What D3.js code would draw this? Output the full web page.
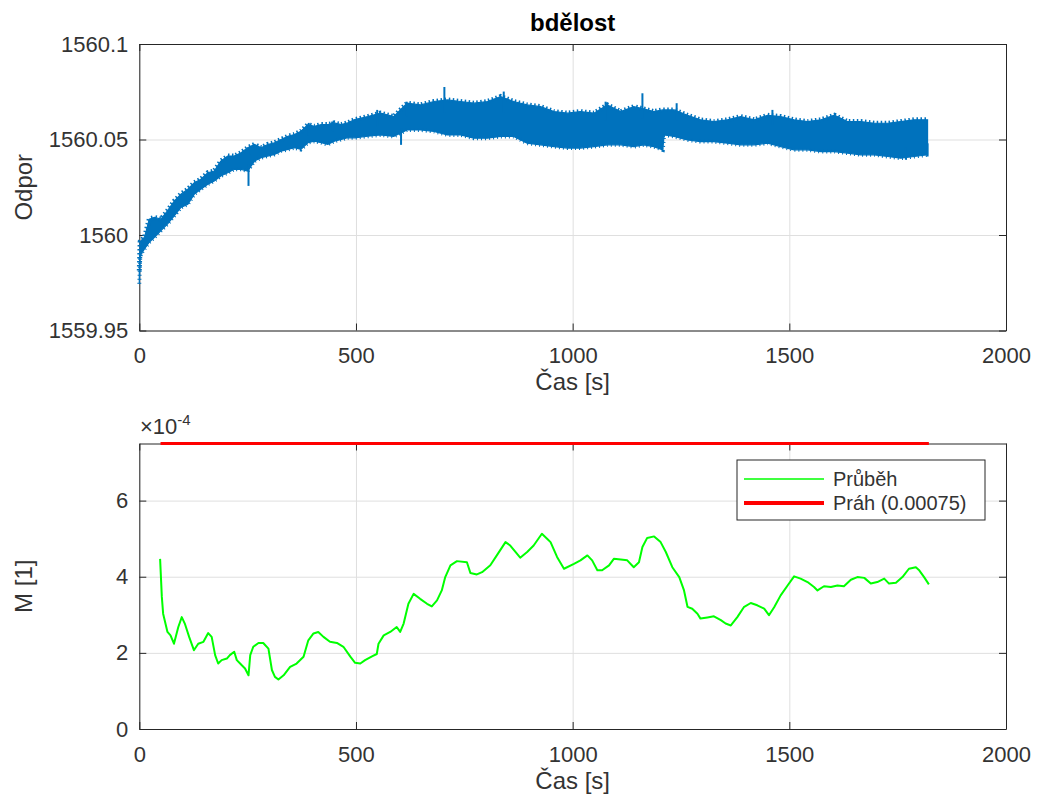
<!DOCTYPE html>
<html lang="cs">
<head>
<meta charset="UTF-8">
<title>bdělost</title>
<script src="https://d3js.org/d3.v7.min.js"></script>
<style>
  body { margin: 0; background: #fff; }
  svg { font-family: "Liberation Sans", Arial, sans-serif; }
  .tick text { fill: #333; }
</style>
</head>
<body>
<script>
// ---- data ----
const xTicks = [0, 500, 1000, 1500, 2000];
const yTicksTop = [1559.95, 1560, 1560.05, 1560.1];
const yTicksBottom = [0, 2, 4, 6];

// top panel: the dense resistance trace, as upper / lower envelope of the band
const tBand = [0, 2, 4, 12, 23, 35, 50, 65, 81, 96, 112, 127, 142, 158, 173, 188, 204, 219, 235, 250,
  266, 281, 296, 312, 327, 343, 358, 373, 389, 404, 420, 435, 450, 466, 481, 497, 527, 557, 587, 618,
  649, 680, 711, 741, 772, 803, 834, 864, 895, 926, 957, 988, 1018, 1049, 1080, 1111, 1141, 1164, 1187, 1208,
  1211, 1234, 1265, 1295, 1326, 1357, 1388, 1419, 1450, 1480, 1511, 1542, 1573, 1604, 1634, 1665, 1696, 1727, 1757, 1788,
  1819];
const bandUpper = [1559.9814, 1559.9965, 1559.9970, 1559.9988, 1560.0083, 1560.0092, 1560.0083, 1560.0127, 1560.0179, 1560.0214,
  1560.0240, 1560.0274, 1560.0292, 1560.0326, 1560.0335, 1560.0387, 1560.0413, 1560.0413, 1560.0431, 1560.0457,
  1560.0474, 1560.0457, 1560.0474, 1560.0483, 1560.0500, 1560.0517, 1560.0526, 1560.0543, 1560.0578, 1560.0569,
  1560.0578, 1560.0578, 1560.0587, 1560.0578, 1560.0587, 1560.0604, 1560.0620, 1560.0638, 1560.0620, 1560.0690,
  1560.0681, 1560.0699, 1560.0707, 1560.0699, 1560.0690, 1560.0699, 1560.0725, 1560.0699, 1560.0681, 1560.0672,
  1560.0646, 1560.0638, 1560.0646, 1560.0638, 1560.0681, 1560.0646, 1560.0672, 1560.0660, 1560.0646, 1560.0655,
  1560.0655, 1560.0655, 1560.0627, 1560.0603, 1560.0594, 1560.0603, 1560.0620, 1560.0603, 1560.0627, 1560.0620,
  1560.0603, 1560.0594, 1560.0603, 1560.0627, 1560.0594, 1560.0594, 1560.0585, 1560.0585, 1560.0594, 1560.0603,
  1560.0603];
const bandLower = [1559.9745, 1559.9875, 1559.9900, 1559.9927, 1559.9962, 1559.9988, 1560.0023, 1560.0057, 1560.0101, 1560.0144,
  1560.0161, 1560.0214, 1560.0240, 1560.0266, 1560.0283, 1560.0309, 1560.0326, 1560.0344, 1560.0344, 1560.0335,
  1560.0387, 1560.0405, 1560.0413, 1560.0422, 1560.0439, 1560.0448, 1560.0457, 1560.0448, 1560.0483, 1560.0491,
  1560.0483, 1560.0474, 1560.0491, 1560.0500, 1560.0509, 1560.0509, 1560.0517, 1560.0524, 1560.0516, 1560.0550,
  1560.0550, 1560.0542, 1560.0524, 1560.0524, 1560.0507, 1560.0507, 1560.0516, 1560.0516, 1560.0481, 1560.0472,
  1560.0463, 1560.0455, 1560.0455, 1560.0463, 1560.0472, 1560.0472, 1560.0463, 1560.0472, 1560.0463, 1560.0446,
  1560.0524, 1560.0516, 1560.0498, 1560.0489, 1560.0489, 1560.0481, 1560.0472, 1560.0472, 1560.0481, 1560.0463,
  1560.0446, 1560.0446, 1560.0437, 1560.0437, 1560.0429, 1560.0420, 1560.0420, 1560.0411, 1560.0402, 1560.0411,
  1560.0420];
// isolated spikes sticking out of the band: time, base, tip
const spikeT = [252, 256, 391, 445, 549, 604, 617, 704, 841, 1076, 1161, 1240, 1461, 1769, 1819];
const spikeBase = [1560.0370, 1560.0420, 1560.0520, 1560.0540, 1560.0570, 1560.0560, 1560.0620, 1560.0640, 1560.0640, 1560.0600, 1560.0610, 1560.0600, 1560.0580, 1560.0460, 1560.0480];
const spikeTip = [1560.0257, 1560.0463, 1560.0587, 1560.0594, 1560.0655, 1560.0472, 1560.0698, 1560.0775, 1560.0751, 1560.0698, 1560.0742, 1560.0690, 1560.0655, 1560.0394, 1560.0411];

// bottom panel: M (in units of 1e-4)
const tM = [48, 52, 55, 65, 72, 80, 90, 98, 105, 115, 126, 136, 148, 159, 167, 175, 182, 190, 202, 209,
  219, 225, 236, 244, 252, 256, 263, 275, 286, 298, 306, 313, 321, 333, 348, 363, 379, 390, 402, 413,
  425, 440, 456, 471, 487, 498, 510, 521, 537, 548, 552, 564, 579, 594, 602, 610, 621, 633, 648, 664,
  675, 687, 698, 706, 718, 733, 756, 764, 779, 791, 810, 825, 845, 856, 868, 879, 895, 910, 929, 941,
  949, 964, 980, 1003, 1018, 1034, 1045, 1057, 1068, 1084, 1095, 1111, 1126, 1141, 1153, 1161, 1172, 1188, 1203, 1215,
  1230, 1246, 1257, 1265, 1276, 1288, 1295, 1311, 1326, 1342, 1353, 1365, 1380, 1395, 1411, 1426, 1442, 1453, 1465, 1480,
  1496, 1511, 1526, 1542, 1557, 1565, 1580, 1596, 1611, 1626, 1642, 1657, 1673, 1688, 1703, 1719, 1730, 1746, 1761, 1776,
  1792, 1799, 1811, 1822];
const vM = [4.47, 3.47, 3.03, 2.55, 2.46, 2.24, 2.68, 2.94, 2.77, 2.42, 2.07, 2.24, 2.29, 2.52, 2.42, 1.94, 1.72, 1.81, 1.85, 1.94,
  2.03, 1.81, 1.68, 1.59, 1.41, 1.94, 2.16, 2.26, 2.26, 2.11, 1.55, 1.37, 1.30, 1.41, 1.63, 1.72, 1.90, 2.33, 2.51, 2.55,
  2.42, 2.29, 2.26, 2.16, 1.90, 1.74, 1.72, 1.81, 1.91, 1.97, 2.24, 2.46, 2.55, 2.68, 2.55, 2.77, 3.29, 3.55, 3.42, 3.29,
  3.22, 3.38, 3.64, 3.99, 4.30, 4.41, 4.38, 4.10, 4.06, 4.12, 4.30, 4.56, 4.91, 4.82, 4.65, 4.50, 4.65, 4.82, 5.13, 5.00,
  4.91, 4.52, 4.21, 4.34, 4.43, 4.56, 4.43, 4.17, 4.17, 4.30, 4.47, 4.45, 4.43, 4.25, 4.38, 4.78, 5.02, 5.06, 4.91, 4.65,
  4.25, 3.99, 3.64, 3.21, 3.16, 3.03, 2.90, 2.93, 2.96, 2.86, 2.77, 2.72, 2.94, 3.20, 3.31, 3.25, 3.16, 2.99, 3.20, 3.51,
  3.77, 4.01, 3.95, 3.86, 3.73, 3.64, 3.75, 3.73, 3.77, 3.75, 3.92, 3.99, 3.97, 3.82, 3.86, 3.95, 3.82, 3.84, 3.99, 4.21,
  4.25, 4.18, 3.99, 3.80];
const threshold = 7.5;            // x 1e-4  (0.00075)
const thresholdSpan = [49, 1822];  // time range of the threshold line
const legendLabels = ["Průběh", "Práh (0.00075)"];

// ---- layout ----
const width = 1038, height = 800;
const svg = d3.select("body").append("svg").attr("width", width).attr("height", height);

const left = 139.3, right = 1006;
const topBox = { top: 44, bottom: 330.5 };
const botBox = { top: 443.5, bottom: 729 };

const x = d3.scaleLinear().domain([0, 2000]).range([left, right]);
const yTop = d3.scaleLinear().domain([1559.95, 1560.1]).range([topBox.bottom, topBox.top]);
const yBot = d3.scaleLinear().domain([0, 7.5]).range([botBox.bottom, botBox.top]);

const axisColor = "#262626";
const gridColor = "#dfdfdf";
const fmtX = d3.format("d");

function drawFrame(y, box, yFmt, yTickVals) {
  const g = svg.append("g");
  const h = box.bottom - box.top, w = right - left;

  // grid
  g.append("g").attr("transform", `translate(0,${box.bottom})`)
    .call(d3.axisBottom(x).tickValues(xTicks).tickSize(-h).tickFormat(""))
    .call(s => s.select(".domain").remove())
    .call(s => s.selectAll("line").attr("stroke", gridColor));
  g.append("g").attr("transform", `translate(${left},0)`)
    .call(d3.axisLeft(y).tickValues(yTickVals).tickSize(-w).tickFormat(""))
    .call(s => s.select(".domain").remove())
    .call(s => s.selectAll("line").attr("stroke", gridColor));

  // box with inward ticks on all sides
  const style = s => {
    s.select(".domain").attr("stroke", axisColor).attr("stroke-width", 1);
    s.selectAll(".tick line").attr("stroke", axisColor);
    s.selectAll(".tick text").attr("font-size", 22).attr("fill", "#333");
  };
  g.append("g").attr("transform", `translate(0,${box.bottom})`)
    .call(d3.axisBottom(x).tickValues(xTicks).tickSizeInner(-7).tickSizeOuter(0).tickPadding(17).tickFormat(fmtX))
    .call(style);
  g.append("g").attr("transform", `translate(0,${box.top})`)
    .call(d3.axisTop(x).tickValues(xTicks).tickSizeInner(-7).tickSizeOuter(0).tickFormat(""))
    .call(style);
  g.append("g").attr("transform", `translate(${left},0)`)
    .call(d3.axisLeft(y).tickValues(yTickVals).tickSizeInner(-7).tickSizeOuter(0).tickPadding(11).tickFormat(yFmt))
    .call(style);
  g.append("g").attr("transform", `translate(${right},0)`)
    .call(d3.axisRight(y).tickValues(yTickVals).tickSizeInner(-7).tickSizeOuter(0).tickFormat(""))
    .call(style);
  g.selectAll("text").attr("font-family", "'Liberation Sans', Arial, sans-serif");
  return g;
}

// ---- top panel ----
drawFrame(yTop, topBox, d => String(+d.toFixed(2)), yTicksTop);

const band = tBand.map((t, i) => ({ t, hi: bandUpper[i], lo: bandLower[i] }));
const blue = "#0072BD";
svg.append("path")
  .datum(band)
  .attr("fill", blue)
  .attr("stroke", blue)
  .attr("stroke-width", 1.2)
  .attr("d", d3.area().x(d => x(d.t)).y0(d => yTop(d.lo)).y1(d => yTop(d.hi)));

// ragged fringe along both edges of the noisy band
[["hi", "1.5 2.5", 5], ["lo", "1 3", 4]].forEach(([k, dash, sw]) => {
  svg.append("path")
    .datum(band)
    .attr("fill", "none")
    .attr("stroke", blue)
    .attr("stroke-width", sw)
    .attr("stroke-dasharray", dash)
    .attr("d", d3.line().x(d => x(d.t)).y(d => yTop(d[k])));
});

svg.append("g").selectAll("line")
  .data(spikeT.map((t, i) => ({ t, a: spikeBase[i], b: spikeTip[i] })))
  .join("line")
  .attr("x1", d => x(d.t)).attr("x2", d => x(d.t))
  .attr("y1", d => yTop(d.a)).attr("y2", d => yTop(d.b))
  .attr("stroke", blue).attr("stroke-width", 2);

svg.append("text")
  .attr("x", (left + right) / 2).attr("y", 31)
  .attr("text-anchor", "middle").attr("font-size", 24).attr("font-weight", "bold")
  .attr("fill", "#000").text("bdělost");

svg.append("text")
  .attr("x", (left + right) / 2).attr("y", 390)
  .attr("text-anchor", "middle").attr("font-size", 24).attr("fill", "#333")
  .text("Čas [s]");

svg.append("text")
  .attr("transform", `translate(32,${(topBox.top + topBox.bottom) / 2}) rotate(-90)`)
  .attr("text-anchor", "middle").attr("font-size", 24).attr("fill", "#333")
  .text("Odpor");

// ---- bottom panel ----
drawFrame(yBot, botBox, d => String(d), yTicksBottom);

svg.append("path")
  .datum(tM.map((t, i) => [t, vM[i]]))
  .attr("fill", "none")
  .attr("stroke", "#00ff00")
  .attr("stroke-width", 2)
  .attr("stroke-linejoin", "round")
  .attr("d", d3.line().x(d => x(d[0])).y(d => yBot(d[1])));

svg.append("line")
  .attr("x1", x(thresholdSpan[0])).attr("x2", x(thresholdSpan[1]))
  .attr("y1", yBot(threshold)).attr("y2", yBot(threshold))
  .attr("stroke", "#ff0000").attr("stroke-width", 3);

// exponent label
const expo = svg.append("text").attr("x", 140).attr("y", 434).attr("font-size", 22).attr("fill", "#333");
expo.append("tspan").text("×10");
expo.append("tspan").attr("font-size", 15).attr("dy", -9).text("-4");

svg.append("text")
  .attr("x", (left + right) / 2).attr("y", 789)
  .attr("text-anchor", "middle").attr("font-size", 24).attr("fill", "#333")
  .text("Čas [s]");

svg.append("text")
  .attr("transform", `translate(32,${(botBox.top + botBox.bottom) / 2}) rotate(-90)`)
  .attr("text-anchor", "middle").attr("font-size", 24).attr("fill", "#333")
  .text("M [1]");

// legend
const lg = svg.append("g").attr("transform", "translate(737,460)");
lg.append("rect").attr("width", 248).attr("height", 60)
  .attr("fill", "#fff").attr("stroke", axisColor).attr("stroke-width", 1);
const legendColors = ["#00ff00", "#ff0000"];
const legendWidths = [1.5, 4];
legendLabels.forEach((lab, i) => {
  const cy = 19 + i * 24;
  lg.append("line").attr("x1", 7).attr("x2", 87).attr("y1", cy).attr("y2", cy)
    .attr("stroke", legendColors[i]).attr("stroke-width", legendWidths[i]);
  lg.append("text").attr("x", 96).attr("y", cy + 7).attr("font-size", 20).attr("fill", "#333").text(lab);
});
</script>
</body>
</html>
